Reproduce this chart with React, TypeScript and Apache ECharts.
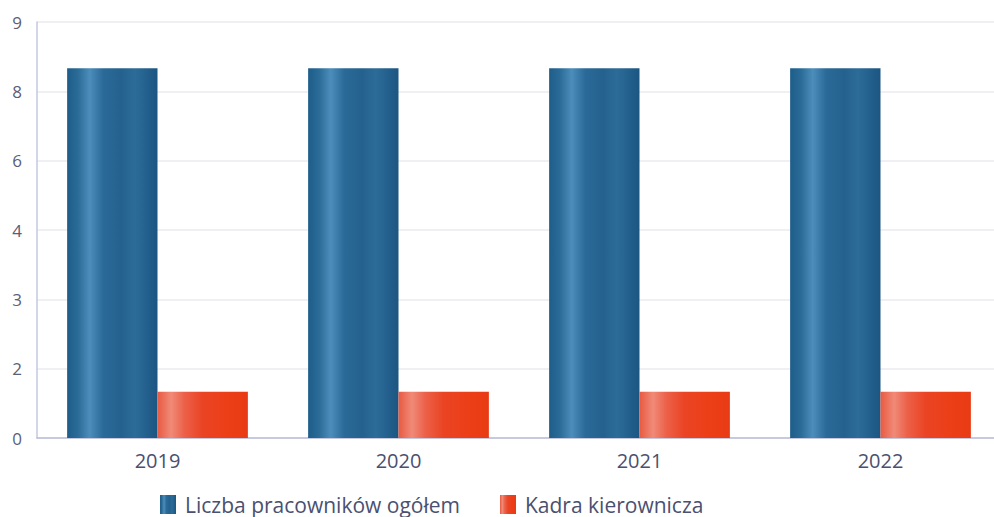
import React, { useEffect, useRef } from "react";
import * as echarts from "echarts";

const categories = ["2019", "2020", "2021", "2022"];
const totalEmployees = [8, 8, 8, 8];
const management = [1, 1, 1, 1];
const yTickLabels = ["0", "2", "3", "4", "6", "8", "9"];
const seriesNames = ["Liczba pracowników ogółem", "Kadra kierownicza"];

const blueGrad = new echarts.graphic.LinearGradient(0, 0, 1, 0, [
  { offset: 0, color: "#1e5d8a" },
  { offset: 0.12, color: "#2a6b98" },
  { offset: 0.25, color: "#4c8dbb" },
  { offset: 0.4, color: "#2a6a98" },
  { offset: 0.6, color: "#25618e" },
  { offset: 0.75, color: "#2c6c99" },
  { offset: 1, color: "#1c5582" },
]);
const redGrad = new echarts.graphic.LinearGradient(0, 0, 1, 0, [
  { offset: 0, color: "#e85a40" },
  { offset: 0.15, color: "#f08a78" },
  { offset: 0.3, color: "#ec6048" },
  { offset: 0.5, color: "#ea4424" },
  { offset: 0.8, color: "#ec3e16" },
  { offset: 1, color: "#e83a14" },
]);

const FONT = "Open Sans";

export default function App() {
  const ref = useRef<HTMLDivElement>(null);
  useEffect(() => {
    if (!ref.current) return;
    const chart = echarts.init(ref.current, undefined, { renderer: "svg" });
    chart.setOption({
      animation: false,
      grid: { left: 37, width: 964, top: 22, height: 416, containLabel: false },
      legend: {
        top: 494,
        left: 160,
        padding: 0,
        icon: "rect",
        itemWidth: 16,
        itemHeight: 19,
        itemGap: 40,
        textStyle: {
          color: "#4a5070",
          fontSize: 21,
          lineHeight: 19,
          fontFamily: FONT,
          padding: [0, 0, 0, 4],
        },
        data: seriesNames,
      },
      xAxis: {
        type: "category",
        data: categories,
        axisLine: { lineStyle: { color: "#b8bcd8", width: 1.5 } },
        axisTick: { show: false },
        axisLabel: { color: "#4a5070", fontSize: 20, margin: 12, fontFamily: FONT },
      },
      yAxis: {
        type: "value",
        min: 0,
        max: 9,
        interval: 1.5,
        axisLine: { show: true, lineStyle: { color: "#c4c8e0", width: 1.5 } },
        axisTick: { show: false },
        splitLine: { lineStyle: { color: "#ebebf0", width: 1.5 } },
        axisLabel: {
          color: "#5a6078",
          fontSize: 17,
          margin: 15,
          fontFamily: FONT,
          formatter: (v: number) => yTickLabels[Math.round(v / 1.5)] ?? "",
        },
      },
      series: [
        {
          name: seriesNames[0],
          type: "bar",
          data: totalEmployees,
          barGap: "0%",
          barCategoryGap: "25%",
          itemStyle: { color: blueGrad },
        },
        {
          name: seriesNames[1],
          type: "bar",
          data: management,
          itemStyle: { color: redGrad },
        },
      ],
    });
    return () => chart.dispose();
  }, []);
  return (
    <div style={{ width: 994, height: 517, position: "absolute", left: 0, top: 0, overflow: "hidden" }}>
      <div ref={ref} style={{ width: 1010, height: 517 }} />
    </div>
  );
}
